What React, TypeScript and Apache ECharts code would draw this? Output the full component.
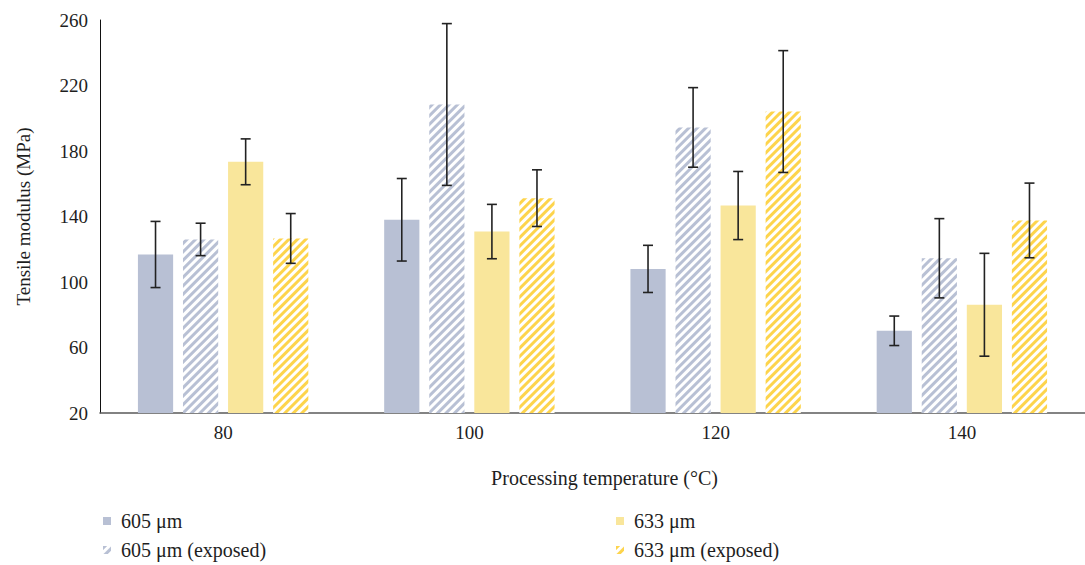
import React, { useEffect, useRef } from "react";
import * as echarts from "echarts";

const categories = ["80", "100", "120", "140"];
const seriesNames = ["605 μm", "605 μm (exposed)", "633 μm", "633 μm (exposed)"];
const s605 = [116.8, 138, 108, 70.2];
const s605Exp = [126, 208.4, 194.4, 114.5];
const s633 = [173.4, 130.8, 146.7, 86.1];
const s633Exp = [126.6, 151.2, 204.1, 137.6];
const err605 = [20.2, 25.2, 14.4, 9];
const err605Exp = [9.9, 49.4, 24.3, 24.2];
const err633 = [14, 16.6, 20.8, 31.4];
const err633Exp = [15.2, 17.3, 37.2, 22.8];
const yTicks = [20, 60, 100, 140, 180, 220, 260];

const CAT_GAP = 0.308;
const BAR_GAP = 0.28;
const FONT = "'Liberation Serif', 'DejaVu Serif', serif";
const TEXT = "#1e1e1e";

const BLUE = "#b8c0d4";
const YELLOW = "#f9e69b";
const GOLD = "#fdd44c";

export default function App() {
  const ref = useRef<HTMLDivElement>(null);
  useEffect(() => {
    document.body.style.margin = "0";
    const chart = echarts.init(ref.current!, null, { renderer: "svg" });
    const values = [s605, s605Exp, s633, s633Exp];
    const errs = [err605, err605Exp, err633, err633Exp];
    const stripe = (c: string) => ({
      symbol: "rect",
      symbolSize: 1,
      dashArrayX: [1, 0],
      dashArrayY: [2.5, 2.3],
      rotation: -Math.PI / 4,
      color: c,
    });
    const styles = [
      { color: BLUE },
      { color: "#ffffff", decal: stripe(BLUE) },
      { color: YELLOW },
      { color: "#ffffff", decal: stripe(GOLD) },
    ];
    const barSeries = values.map((v, i) => ({
      type: "bar",
      name: seriesNames[i],
      data: v,
      barCategoryGap: (CAT_GAP * 100).toFixed(1) + "%",
      barGap: BAR_GAP * 100 + "%",
      itemStyle: styles[i],
      emphasis: { disabled: true },
    }));
    const errSeries = values.map((v, si) => ({
      type: "custom",
      silent: true,
      z: 5,
      data: v.map((val, k) => [k, val - errs[si][k], val + errs[si][k]]),
      encode: { x: 0, y: [1, 2] },
      renderItem: (params: any, api: any) => {
        const idx = api.value(0);
        const lo = api.coord([idx, api.value(1)]);
        const hi = api.coord([idx, api.value(2)]);
        const band = api.size([1, 0])[0];
        const bw = (band * (1 - CAT_GAP)) / (4 + 3 * BAR_GAP);
        const groupW = 4 * bw + 3 * bw * BAR_GAP;
        const x = lo[0] - groupW / 2 + si * bw * (1 + BAR_GAP) + bw / 2;
        const cap = 5;
        const st = { stroke: "#222222", lineWidth: 1.6 };
        return {
          type: "group",
          children: [
            { type: "line", shape: { x1: x, y1: hi[1], x2: x, y2: lo[1] }, style: st },
            { type: "line", shape: { x1: x - cap, y1: hi[1], x2: x + cap, y2: hi[1] }, style: st },
            { type: "line", shape: { x1: x - cap, y1: lo[1], x2: x + cap, y2: lo[1] }, style: st },
          ],
        };
      },
    }));
    const legendPos = [
      { left: 98, top: 506 },
      { left: 98, top: 535 },
      { left: 611, top: 506 },
      { left: 611, top: 535 },
    ];
    const legends = seriesNames.map((n, i) => ({
      orient: "horizontal",
      icon: "rect",
      itemWidth: 8,
      itemHeight: 8,
      ...legendPos[i],
      data: [n],
      textStyle: { fontFamily: FONT, fontSize: 20, color: TEXT, padding: [0, 0, 0, 5] },
    }));
    chart.setOption({
      animation: false,
      textStyle: { fontFamily: FONT },
      grid: { left: 100, top: 20, width: 994, height: 393 },
      legend: legends,
      xAxis: {
        type: "category",
        data: categories,
        name: "Processing temperature (°C)",
        nameLocation: "middle",
        nameGap: 55,
        nameTextStyle: { fontFamily: FONT, fontSize: 20, color: TEXT, padding: [0, 0, 0, 24] },
        axisLine: { lineStyle: { color: "#5a5a5a", width: 1.6 } },
        axisTick: { show: false },
        axisLabel: { fontFamily: FONT, fontSize: 19, color: TEXT, margin: 10 },
      },
      yAxis: {
        type: "value",
        min: yTicks[0],
        max: yTicks[yTicks.length - 1],
        interval: 40,
        name: "Tensile modulus (MPa)",
        nameLocation: "middle",
        nameGap: 67,
        nameTextStyle: { fontFamily: FONT, fontSize: 19, color: TEXT },
        axisLine: { show: true, lineStyle: { color: "#111111", width: 1 } },
        axisTick: { show: false },
        splitLine: { show: false },
        axisLabel: { fontFamily: FONT, fontSize: 19, color: TEXT, margin: 12 },
      },
      series: [...barSeries, ...errSeries],
    });
    return () => chart.dispose();
  }, []);
  return <div ref={ref} style={{ width: 1085, height: 565 }} />;
}
